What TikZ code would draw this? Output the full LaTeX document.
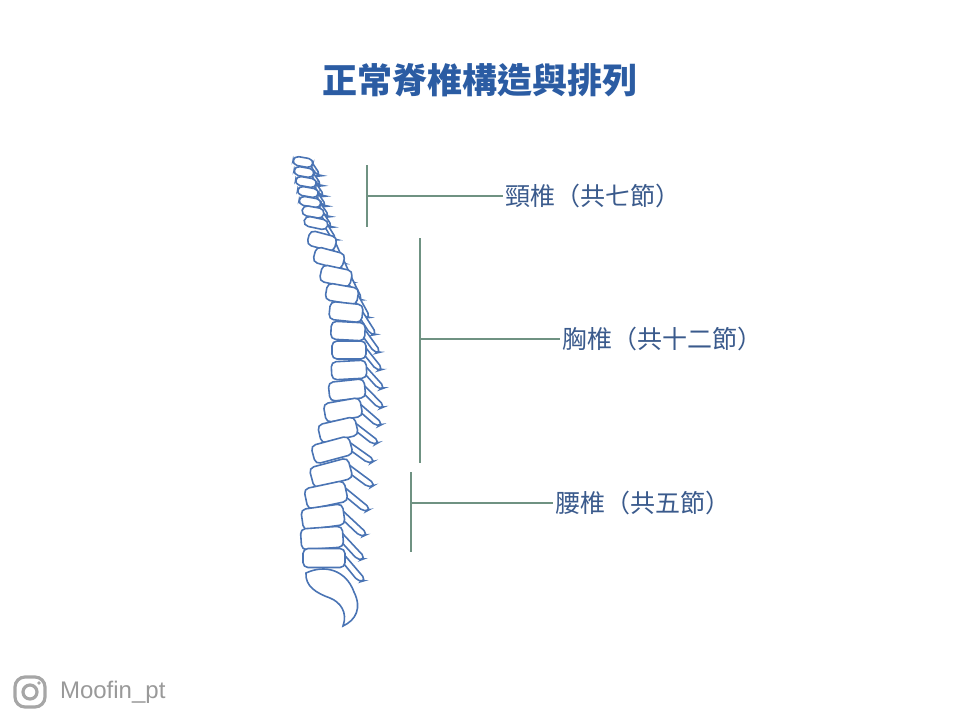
\documentclass[tikz,border=0pt]{standalone}
\usepackage{fontspec}
\setmainfont{Liberation Sans}
\newfontfamily\cjk{Noto Sans CJK TC}
\usetikzlibrary{positioning,calc}
\definecolor{titleblue}{HTML}{2B5CA3}
\definecolor{labelblue}{HTML}{3A5A8C}
\definecolor{bone}{HTML}{4A74B4}
\definecolor{bracket}{HTML}{6F9282}
\tikzset{
  body/.style={draw=bone, line width=0.8pt, rounded corners=2.5pt, fill=white},
  brace/.style={draw=bracket, line width=1.2pt},
  lbl/.style={text=labelblue, font=\cjk\fontsize{12.5}{14}\selectfont, inner sep=1pt, anchor=west}
}
\begin{document}
\begin{tikzpicture}[x=0.5pt,y=-0.5pt]
  \useasboundingbox (0,0) rectangle (960,720);
  \node[text=titleblue, font=\cjk\bfseries\fontsize{17.5}{20}\selectfont] (title) at (480,80) {正常脊椎構造與排列};

  % vertebrae: x/y/width/height/tilt
  \foreach \x/\y/\w/\h/\a in {303/162/20/9/-10, 304/172/20/9/-10, 306/182/21/9/-10, 308/192/21/9/-10,
      310/202/22/9/-10, 313/212/22/10/-10, 316/223/24/10/-12,
      322/241/28/15/-15, 329/258/30/16/-15, 336/276/31/17/-12, 342/294/32/17/-10,
      346/312/33/18/-6, 348/331/34/18/-3, 349/350/34/18/0, 349/370/35/18/3,
      347/390/36/19/6, 343/410/37/19/10, 338/430/38/19/13, 332/450/39/19/15,
      331/473/40/21/15, 326/495/41/21/12, 323/517/42/21/8, 322/538/42/21/4, 324/558/42/19/0} {
    \begin{scope}[shift={(\x,\y)}, rotate=\a]
      \draw[body] ({\w/2-2},{-\h/4}) -- ({\w/2+0.5*\w},{\h/2+0.3*\w}) -- ({\w/2+0.33*\w},{\h/2+0.35*\w}) -- ({\w/2-2},{\h/4});
      \draw[body] ({-\w/2},{-\h/2}) rectangle ({\w/2},{\h/2});
    \end{scope}
  }
  % sacrum
  \draw[bone, line width=0.8pt] (306,573) .. controls (325,564) and (346,570) .. (354,592)
    .. controls (362,608) and (356,620) .. (343,626)
    .. controls (348,612) and (340,602) .. (330,598)
    .. controls (316,593) and (305,586) .. (306,573) -- cycle;

  % brackets and labels
  \node[lbl] (cerv) at (503,196) {頸椎（共七節）};
  \node[lbl] (thor) at (560,339) {胸椎（共十二節）};
  \node[lbl] (lumb) at (553,503) {腰椎（共五節）};
  \coordinate (c1) at (367,165); \coordinate (c2) at (367,227); \coordinate (c0) at (367,196);
  \coordinate (t1) at (420,238); \coordinate (t2) at (420,463); \coordinate (t0) at (420,339);
  \coordinate (l1) at (411,472); \coordinate (l2) at (411,552); \coordinate (l0) at (411,503);
  \draw[brace] (c1) -- (c2); \draw[brace] (c0) -- (cerv.west);
  \draw[brace] (t1) -- (t2); \draw[brace] (t0) -- (thor.west);
  \draw[brace] (l1) -- (l2); \draw[brace] (l0) -- (lumb.west);

  % watermark
  \draw[gray!70, line width=1.6pt, rounded corners=5pt] (15,677) rectangle (45,707);
  \draw[gray!70, line width=1.6pt] (30,692) circle (7);
  \fill[gray!70] (39,683) circle (1.8);
  \node[text=gray!80, font=\fontsize{12}{14}\selectfont, anchor=west] (mark) at (53,692) {Moofin\_pt};
\end{tikzpicture}
\end{document}
